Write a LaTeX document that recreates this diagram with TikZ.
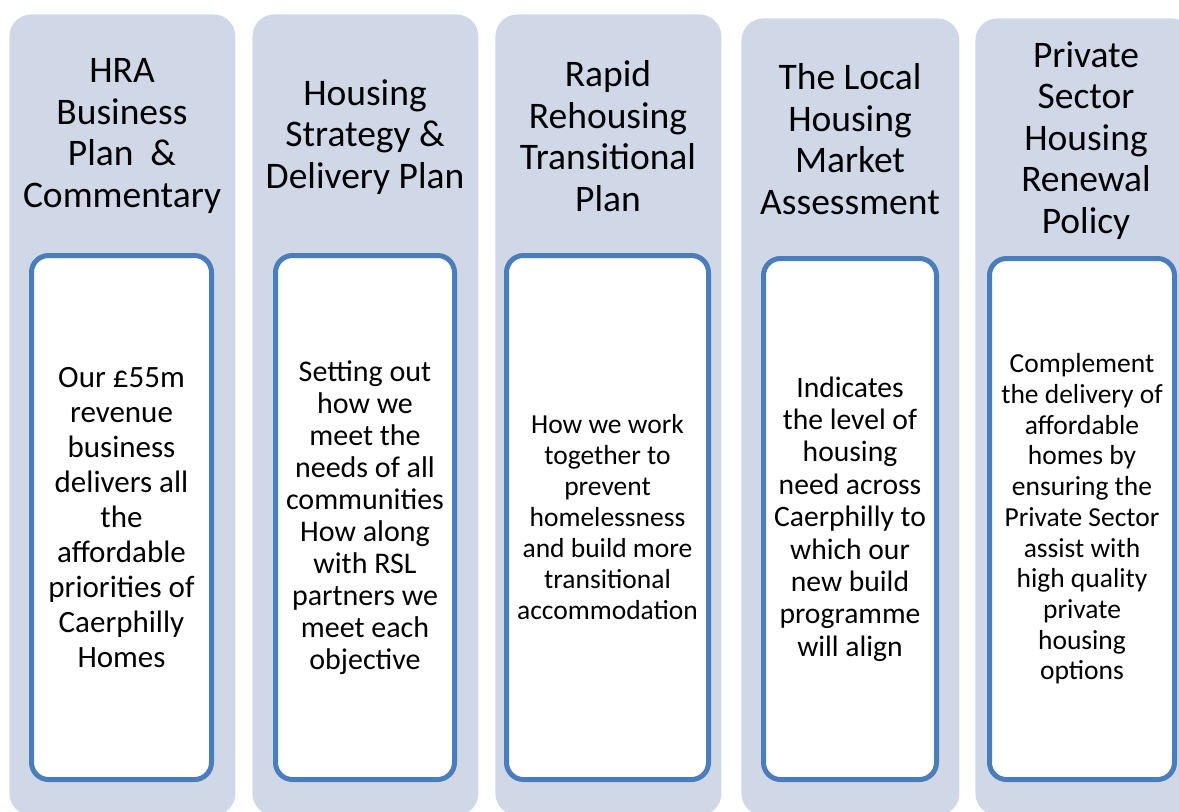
\documentclass[tikz,border=0pt]{standalone}
\usepackage{fontspec}
\setmainfont{Carlito}
\definecolor{colfill}{HTML}{D0D8E8}
\definecolor{boxline}{HTML}{4A7EBB}
\begin{document}
\begin{tikzpicture}[x=0.5pt,y=-0.5pt,
    column/.style={fill=colfill, rounded corners=11pt, anchor=north west, inner sep=0pt},
    heading/.style={align=center, inner sep=0pt, font=\fontsize{18.75}{20.75}\selectfont},
    detail/.style={draw=boxline, fill=white, line width=2.5pt, rounded corners=8.5pt, align=center, inner sep=0pt, anchor=north west}]
    \clip (0,0) rectangle (1179,811);

    \node[column, minimum width=113pt, minimum height=400.5pt] (hra) at (9,14) {};
    \node[heading] (hraname) at (122,136) {HRA\\Business\\Plan \ \&\\Commentary};
    \node[detail, minimum width=90pt, minimum height=262pt, font=\fontsize{15.5}{17.5}\selectfont] (hrabody) at (29,253)
        {Our £55m\\revenue\\business\\delivers all\\the\\affordable\\priorities of\\Caerphilly\\Homes};

    \node[column, minimum width=113pt, minimum height=400.5pt] (strategy) at (252,14) {};
    \node[heading] (strategyname) at (365,137) {Housing\\Strategy \&\\Delivery Plan};
    \node[detail, minimum width=89.5pt, minimum height=262pt, font=\fontsize{15}{16}\selectfont] (strategybody) at (273,253)
        {Setting out\\how we\\meet the\\needs of all\\communities\\How along\\with RSL\\partners we\\meet each\\objective};

    \node[column, minimum width=113pt, minimum height=400.5pt] (rapid) at (495,14) {};
    \node[heading] (rapidname) at (608,136) {Rapid\\Rehousing\\Transitional\\Plan};
    \node[detail, minimum width=101pt, minimum height=262pt, font=\fontsize{13.75}{15.5}\selectfont] (rapidbody) at (504,253)
        {How we work\\together to\\prevent\\homelessness\\and build more\\transitional\\accommodation};

    \node[column, minimum width=109pt, minimum height=398.5pt] (market) at (741,18) {};
    \node[heading] (marketname) at (850,139) {The Local\\Housing\\Market\\Assessment};
    \node[detail, minimum width=86.5pt, minimum height=260.5pt, font=\fontsize{14.8}{16.2}\selectfont] (marketbody) at (761,256)
        {Indicates\\the level of\\housing\\need across\\Caerphilly to\\which our\\new build\\programme\\will align};

    \node[column, minimum width=109pt, minimum height=398.5pt] (renewal) at (975,18) {};
    \node[heading] (renewalname) at (1086,140.5) {Private\\Sector\\Housing\\Renewal\\Policy};
    \node[detail, minimum width=92.5pt, minimum height=260.5pt, font=\fontsize{13.75}{15.35}\selectfont] (renewalbody) at (987,256)
        {Complement\\the delivery of\\affordable\\homes by\\ensuring the\\Private Sector\\assist with\\high quality\\private\\housing\\options};
\end{tikzpicture}
\end{document}
